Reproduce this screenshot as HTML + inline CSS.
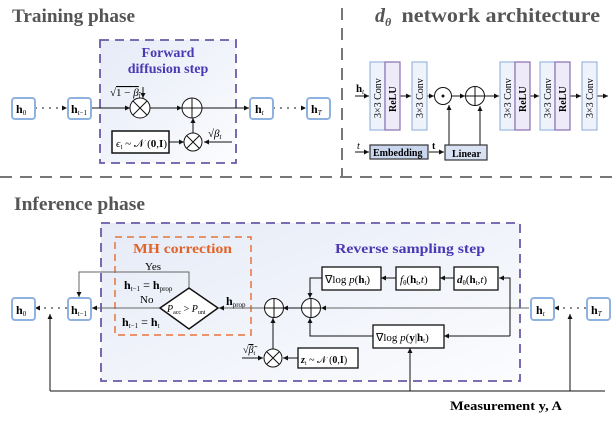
<!DOCTYPE html>
<html><head><meta charset="utf-8"><style>
html,body{margin:0;padding:0;background:#fff;}
svg{display:block;font-family:"Liberation Serif",serif;}
.b{font-weight:bold}
</style></head><body>
<svg width="612" height="421" viewBox="0 0 612 421" xmlns="http://www.w3.org/2000/svg">
<defs>
<marker id="a" markerWidth="6" markerHeight="6" refX="5" refY="3" orient="auto" markerUnits="userSpaceOnUse"><path d="M0,0.5 L5,3 L0,5.5z" fill="#111"/></marker>
<linearGradient id="g" x1="0" y1="0" x2="1" y2="1"><stop offset="0" stop-color="#e6ebf7"/><stop offset="1" stop-color="#fbfcfe"/></linearGradient>
</defs>
<!-- separators -->
<line x1="0" y1="177" x2="612" y2="177" stroke="#777" stroke-width="2" stroke-dasharray="12,8"/>
<line x1="342" y1="8" x2="342" y2="177" stroke="#777" stroke-width="2" stroke-dasharray="12,8"/>
<!-- titles -->
<text x="12" y="22" font-size="19" class="b" fill="#555" textLength="123" lengthAdjust="spacingAndGlyphs">Training phase</text>
<text x="375" y="22" font-size="20" class="b" fill="#555"><tspan font-style="italic">d</tspan><tspan font-size="12" dy="4" font-style="italic">θ</tspan><tspan dy="-4" x="396" textLength="204" lengthAdjust="spacingAndGlyphs"> network architecture</tspan></text>
<text x="14" y="210" font-size="19" class="b" fill="#555" textLength="131" lengthAdjust="spacingAndGlyphs">Inference phase</text>

<!-- Forward box -->
<rect x="100" y="40" width="136" height="123" fill="url(#g)" stroke="#6a5aa8" stroke-width="1.8" stroke-dasharray="9,6"/>
<text x="168" y="57" font-size="14" class="b" fill="#4b38b5" text-anchor="middle">Forward</text>
<text x="168" y="73" font-size="14" class="b" fill="#4b38b5" text-anchor="middle">diffusion step</text>
<g stroke="#111" stroke-width="1" fill="none">
<line x1="91" y1="108" x2="130" y2="108" marker-end="url(#a)"/>
<line x1="150" y1="108" x2="182" y2="108" marker-end="url(#a)"/>
<line x1="202" y1="108" x2="249" y2="108" marker-end="url(#a)"/>
<line x1="143" y1="87" x2="143" y2="98" marker-end="url(#a)"/>
<line x1="169" y1="142" x2="184" y2="142" marker-end="url(#a)"/>
<line x1="232" y1="142" x2="204" y2="142" marker-end="url(#a)"/>
<line x1="193" y1="133" x2="193" y2="118" marker-end="url(#a)"/>
<line x1="35" y1="108" x2="67" y2="108" stroke-dasharray="2,5" marker-end="url(#a)"/>
<line x1="273" y1="108" x2="306" y2="108" stroke-dasharray="2,5" marker-end="url(#a)"/>
<circle cx="140" cy="108" r="10" fill="#fff"/><path d="M133,101 L147,115 M147,101 L133,115"/>
<circle cx="192" cy="108" r="10" fill="#fff"/><path d="M182,108 H202 M192,98 V118"/>
<circle cx="193" cy="142" r="9" fill="#fff"/><path d="M187,136 L199,148 M199,136 L187,148"/>
<rect x="112" y="131" width="57" height="22" fill="#fff" stroke-width="1.5"/>
</g>
<text x="110" y="96" font-size="11">√<tspan text-decoration="overline">1 − <tspan font-style="italic">β</tspan><tspan font-size="7" dy="2">t</tspan></tspan></text>
<text x="208" y="137" font-size="11">√<tspan font-style="italic">β</tspan><tspan font-size="7" dy="2" font-style="italic">t</tspan></text>
<text x="116" y="147" font-size="11"><tspan font-style="italic">ϵ</tspan><tspan font-size="7" dy="2">t</tspan><tspan dy="-2"> ~ 𝒩 (</tspan><tspan class="b">0</tspan>,<tspan class="b">I</tspan>)</text>
<g fill="#fff" stroke="#8fb3e0" stroke-width="2">
<rect x="12" y="98" width="23" height="21" rx="3"/><rect x="68" y="98" width="23" height="21" rx="3"/>
<rect x="250" y="98" width="23" height="21" rx="3"/><rect x="307" y="98" width="23" height="21" rx="3"/>
</g>
<g font-size="12" class="b">
<text x="16" y="113">h<tspan font-size="7" font-weight="normal" dy="2">0</tspan></text>
<text x="71" y="113">h<tspan font-size="7" font-weight="normal" dy="2">t−1</tspan></text>
<text x="255" y="113">h<tspan font-size="7" font-weight="normal" dy="2" font-style="italic">t</tspan></text>
<text x="311" y="113">h<tspan font-size="7" font-weight="normal" dy="2" font-style="italic">T</tspan></text>
</g>

<!-- network -->
<g stroke="#111" stroke-width="1" fill="none">
<line x1="355" y1="96" x2="369" y2="96" marker-end="url(#a)"/>
<line x1="400" y1="96" x2="411" y2="96" marker-end="url(#a)"/>
<line x1="427" y1="96" x2="434" y2="96" marker-end="url(#a)"/>
<line x1="452" y1="96" x2="465" y2="96" marker-end="url(#a)"/>
<line x1="485" y1="96" x2="499" y2="96" marker-end="url(#a)"/>
<line x1="530" y1="96" x2="539" y2="96" marker-end="url(#a)"/>
<line x1="570" y1="96" x2="581" y2="96" marker-end="url(#a)"/>
<line x1="597" y1="96" x2="608" y2="96" marker-end="url(#a)"/>
<line x1="355" y1="152" x2="369" y2="152" marker-end="url(#a)"/>
<line x1="429" y1="152" x2="444" y2="152" marker-end="url(#a)"/>
<line x1="449" y1="145" x2="449" y2="105" marker-end="url(#a)"/>
<line x1="480" y1="145" x2="480" y2="106" marker-end="url(#a)"/>
<circle cx="443" cy="96" r="8.5" fill="#fff"/>
<circle cx="475" cy="96" r="9.5" fill="#fff"/><path d="M465.5,96 H484.5 M475,86.5 V105.5"/>
</g>
<circle cx="443" cy="96" r="1.5" fill="#111"/>
<g stroke-width="1.2">
<rect x="370" y="62" width="15" height="68" fill="#eef2fb" stroke="#9bb8e0"/>
<rect x="385" y="62" width="15" height="68" fill="#efeaf7" stroke="#8a6fb0"/>
<rect x="412" y="62" width="15" height="68" fill="#eef2fb" stroke="#9bb8e0"/>
<rect x="500" y="62" width="15" height="68" fill="#eef2fb" stroke="#9bb8e0"/>
<rect x="515" y="62" width="15" height="68" fill="#efeaf7" stroke="#8a6fb0"/>
<rect x="540" y="62" width="15" height="68" fill="#eef2fb" stroke="#9bb8e0"/>
<rect x="555" y="62" width="15" height="68" fill="#efeaf7" stroke="#8a6fb0"/>
<rect x="582" y="62" width="15" height="68" fill="#eef2fb" stroke="#9bb8e0"/>
<rect x="370" y="145" width="58" height="14" fill="#c9d6ee" stroke="#333"/>
<rect x="445" y="145" width="42" height="15" fill="#d9e2f3" stroke="#333"/>
</g>
<g font-size="10">
<text transform="translate(381,118) rotate(-90)">3×3 Conv</text>
<text transform="translate(396,112) rotate(-90)" class="b">ReLU</text>
<text transform="translate(423,118) rotate(-90)">3×3 Conv</text>
<text transform="translate(511,118) rotate(-90)">3×3 Conv</text>
<text transform="translate(526,112) rotate(-90)" class="b">ReLU</text>
<text transform="translate(551,118) rotate(-90)">3×3 Conv</text>
<text transform="translate(566,112) rotate(-90)" class="b">ReLU</text>
<text transform="translate(593,118) rotate(-90)">3×3 Conv</text>
<text x="373" y="156" class="b">Embedding</text>
<text x="452" y="157" class="b">Linear</text>
<text x="356" y="92" font-size="11" class="b">h<tspan font-size="7" font-weight="normal" dy="2" font-style="italic">t</tspan></text>
<text x="357" y="149" font-style="italic">t</text>
<text x="432" y="149" class="b">t</text>
</g>

<!-- Inference -->
<rect x="101" y="223" width="419" height="158" fill="url(#g)" stroke="#6a5aa8" stroke-width="1.8" stroke-dasharray="9,6"/>
<rect x="115" y="237" width="136" height="98" fill="none" stroke="#e8743a" stroke-width="1.5" stroke-dasharray="7,5"/>
<text x="133" y="253" font-size="14" class="b" fill="#e0642a" textLength="99" lengthAdjust="spacingAndGlyphs">MH correction</text>
<text x="335" y="253" font-size="14" class="b" fill="#4b38b5" textLength="150" lengthAdjust="spacingAndGlyphs">Reverse sampling step</text>
<g stroke="#111" stroke-width="1" fill="none">
<line x1="50" y1="391" x2="605" y2="391"/>
<line x1="50" y1="391" x2="50" y2="314" marker-end="url(#a)"/>
<line x1="410" y1="391" x2="410" y2="348" marker-end="url(#a)"/>
<line x1="570" y1="391" x2="570" y2="314" marker-end="url(#a)"/>
<line x1="67" y1="308" x2="35" y2="308" stroke-dasharray="2,5" marker-end="url(#a)"/>
<line x1="586" y1="308" x2="554" y2="308" stroke-dasharray="2,5" marker-end="url(#a)"/>
<line x1="160" y1="308" x2="92" y2="308" stroke="#666" marker-end="url(#a)"/>
<polyline points="189,288 189,272 79,272 79,297" stroke="#666" marker-end="url(#a)"/>
<line x1="264" y1="308" x2="219" y2="308" stroke="#666" marker-end="url(#a)"/>
<line x1="301" y1="308" x2="283" y2="308" marker-end="url(#a)"/>
<line x1="529" y1="308" x2="321" y2="308" stroke="#666" marker-end="url(#a)"/>
<polyline points="322,278 310,278 310,298" marker-end="url(#a)"/>
<polyline points="373,336 310,336 310,318" marker-end="url(#a)"/>
<line x1="396" y1="278" x2="381" y2="278" marker-end="url(#a)"/>
<line x1="454" y1="278" x2="440" y2="278" marker-end="url(#a)"/>
<polyline points="510,336 510,278 499,278" marker-end="url(#a)"/>
<line x1="510" y1="336" x2="444" y2="336" marker-end="url(#a)"/>
<line x1="273" y1="349" x2="273" y2="318" marker-end="url(#a)"/>
<line x1="298" y1="358" x2="283" y2="358" marker-end="url(#a)"/>
<line x1="242" y1="358" x2="263" y2="358" marker-end="url(#a)"/>
<circle cx="274" cy="308" r="9.5" fill="#fff"/><path d="M264.5,308 H283.5 M274,298.5 V317.5"/>
<circle cx="311" cy="308" r="9.5" fill="#fff"/><path d="M301.5,308 H320.5 M311,298.5 V317.5"/>
<circle cx="273" cy="358" r="9" fill="#fff"/><path d="M267,352 L279,364 M279,352 L267,364"/>
<polygon points="160,308 189,288 218,308 189,329" fill="#fff" stroke-width="1.5"/>
<rect x="322" y="267" width="59" height="23" fill="#fff" stroke-width="1.3"/>
<rect x="396" y="267" width="44" height="23" fill="#fff" stroke-width="1.3"/>
<rect x="454" y="267" width="44" height="23" fill="#fff" stroke-width="1.3"/>
<rect x="373" y="325" width="71" height="23" fill="#fff" stroke-width="1.3"/>
<rect x="298" y="348" width="60" height="20" fill="#fff" stroke-width="1.3"/>
</g>
<g fill="#fff" stroke="#8fb3e0" stroke-width="2">
<rect x="12" y="298" width="23" height="22" rx="3"/><rect x="68" y="298" width="23" height="22" rx="3"/>
<rect x="531" y="298" width="23" height="22" rx="3"/><rect x="587" y="298" width="23" height="22" rx="3"/>
</g>
<g font-size="12" class="b">
<text x="16" y="314">h<tspan font-size="7" font-weight="normal" dy="2">0</tspan></text>
<text x="71" y="314">h<tspan font-size="7" font-weight="normal" dy="2">t−1</tspan></text>
<text x="536" y="314">h<tspan font-size="7" font-weight="normal" dy="2" font-style="italic">t</tspan></text>
<text x="591" y="314">h<tspan font-size="7" font-weight="normal" dy="2" font-style="italic">T</tspan></text>
</g>
<g font-size="11">
<text x="145" y="270">Yes</text>
<text x="140" y="303">No</text>
<text x="124" y="289" font-size="12"><tspan class="b">h</tspan><tspan font-size="7" dy="2">t−1</tspan><tspan dy="-2"> = </tspan><tspan class="b">h</tspan><tspan font-size="7" dy="2">prop</tspan></text>
<text x="122" y="326" font-size="12"><tspan class="b">h</tspan><tspan font-size="7" dy="2">t−1</tspan><tspan dy="-2"> = </tspan><tspan class="b">h</tspan><tspan font-size="7" dy="2">t</tspan></text>
<text x="167" y="312" font-size="10"><tspan font-style="italic">P</tspan><tspan font-size="6" dy="2">acc</tspan><tspan dy="-2"> &gt; </tspan><tspan font-style="italic">P</tspan><tspan font-size="6" dy="2">uni</tspan></text>
<text x="226" y="305" font-size="12"><tspan class="b">h</tspan><tspan font-size="7" dy="2">prop</tspan></text>
<text x="325" y="283">∇log <tspan font-style="italic">p</tspan>(<tspan class="b">h</tspan><tspan font-size="7" dy="2">t</tspan><tspan dy="-2">)</tspan></text>
<text x="400" y="283"><tspan font-style="italic">f</tspan><tspan font-size="7" dy="2">θ</tspan><tspan dy="-2">(</tspan><tspan class="b">h</tspan><tspan font-size="7" dy="2">t</tspan><tspan dy="-2">,<tspan font-style="italic">t</tspan>)</tspan></text>
<text x="457" y="283"><tspan font-style="italic" class="b">d</tspan><tspan font-size="7" dy="2">θ</tspan><tspan dy="-2">(</tspan><tspan class="b">h</tspan><tspan font-size="7" dy="2">t</tspan><tspan dy="-2">,<tspan font-style="italic">t</tspan>)</tspan></text>
<text x="376" y="341">∇log <tspan font-style="italic">p</tspan>(<tspan class="b">y</tspan>|<tspan class="b">h</tspan><tspan font-size="7" dy="2">t</tspan><tspan dy="-2">)</tspan></text>
<text x="301" y="363" font-size="10"><tspan font-style="italic" class="b">z</tspan><tspan font-size="6" dy="2">t</tspan><tspan dy="-2"> ~ 𝒩 (</tspan><tspan class="b">0</tspan>,<tspan class="b">I</tspan>)</text>
<text x="243" y="353" font-size="10">√<tspan font-style="italic" text-decoration="overline">β̃</tspan><tspan font-size="6" dy="2">t</tspan></text>
</g>
<text x="450" y="410" font-size="13" class="b" textLength="112" lengthAdjust="spacingAndGlyphs">Measurement  y, A</text>
</svg>
</body></html>
